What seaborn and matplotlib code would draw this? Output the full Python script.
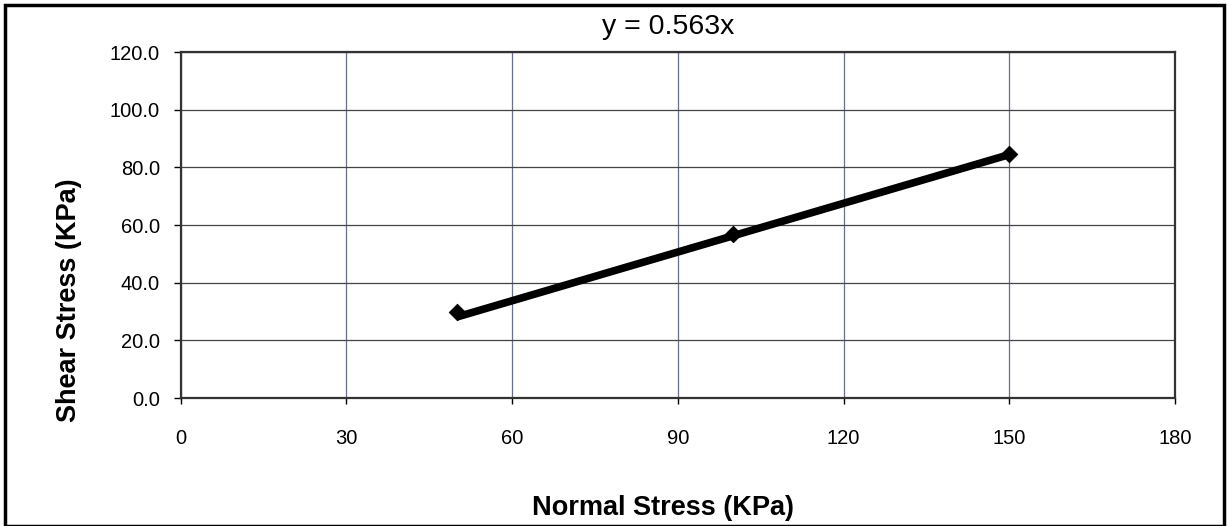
import numpy as np
import pandas as pd
import matplotlib
matplotlib.use("Agg")
import matplotlib.pyplot as plt
import seaborn as sns

# data
normal_stress = [50, 100, 150]
shear_stress = [30.0, 57.0, 84.5]
slope = 0.563
x_ticks = [0, 30, 60, 90, 120, 150, 180]
y_ticks = [0, 20, 40, 60, 80, 100, 120]

sns.set_style("white")
plt.rcParams['font.family'] = ['Liberation Sans', 'DejaVu Sans']
plt.rcParams['text.color'] = 'black'
plt.rcParams['axes.labelcolor'] = 'black'
plt.rcParams['xtick.color'] = 'black'
plt.rcParams['ytick.color'] = 'black'

df = pd.DataFrame({"x": normal_stress, "y": shear_stress})
trend = pd.DataFrame({"x": [min(normal_stress), max(normal_stress)]})
trend["y"] = slope * trend["x"]

fig = plt.figure(figsize=(12.29, 5.26), dpi=100)
ax = fig.add_axes([0.147, 0.243, 0.809, 0.658])

sns.lineplot(data=trend, x="x", y="y", ax=ax, color="black", linewidth=5.5,
             solid_capstyle="butt", zorder=3)
sns.scatterplot(data=df, x="x", y="y", ax=ax, marker="D", s=70,
                color="black", edgecolor="black", zorder=4)

ax.set_xlim(0, 180)
ax.set_ylim(0, 120)
ax.set_xticks(x_ticks)
ax.set_yticks(y_ticks)
ax.set_xticklabels([str(t) for t in x_ticks])
ax.set_yticklabels(["%.1f" % t for t in y_ticks])
ax.tick_params(axis="y", labelsize=14.5, length=5, width=1, pad=10, left=True, direction="out")
ax.tick_params(axis="x", labelsize=14.5, length=4, width=1, pad=18, bottom=True, direction="out")

ax.grid(True, axis="y", color="#444444", linewidth=0.9)
ax.grid(True, axis="x", color="#6a6f8a", linewidth=0.9)
for s in ax.spines.values():
    s.set_color("#333333")
    s.set_linewidth(1.6)

ax.text(0.49, 1.072, "y = 0.563x", transform=ax.transAxes, fontsize=20.5,
        ha="center", va="center")
ax.set_xlabel("Normal Stress (KPa)", fontsize=19.5, fontweight="bold", va="center")
ax.xaxis.set_label_coords(0.485, -0.318)
ax.set_ylabel("Shear Stress (KPa)", fontsize=19.5, fontweight="bold", va="center")
ax.yaxis.set_label_coords(-0.112, 0.283)

# outer frame
fig.patches.append(plt.Rectangle((0.004, 0.0), 0.992, 0.99, transform=fig.transFigure,
                                 fill=False, edgecolor="black", linewidth=2.5))

fig.savefig("out.png", dpi=100)
